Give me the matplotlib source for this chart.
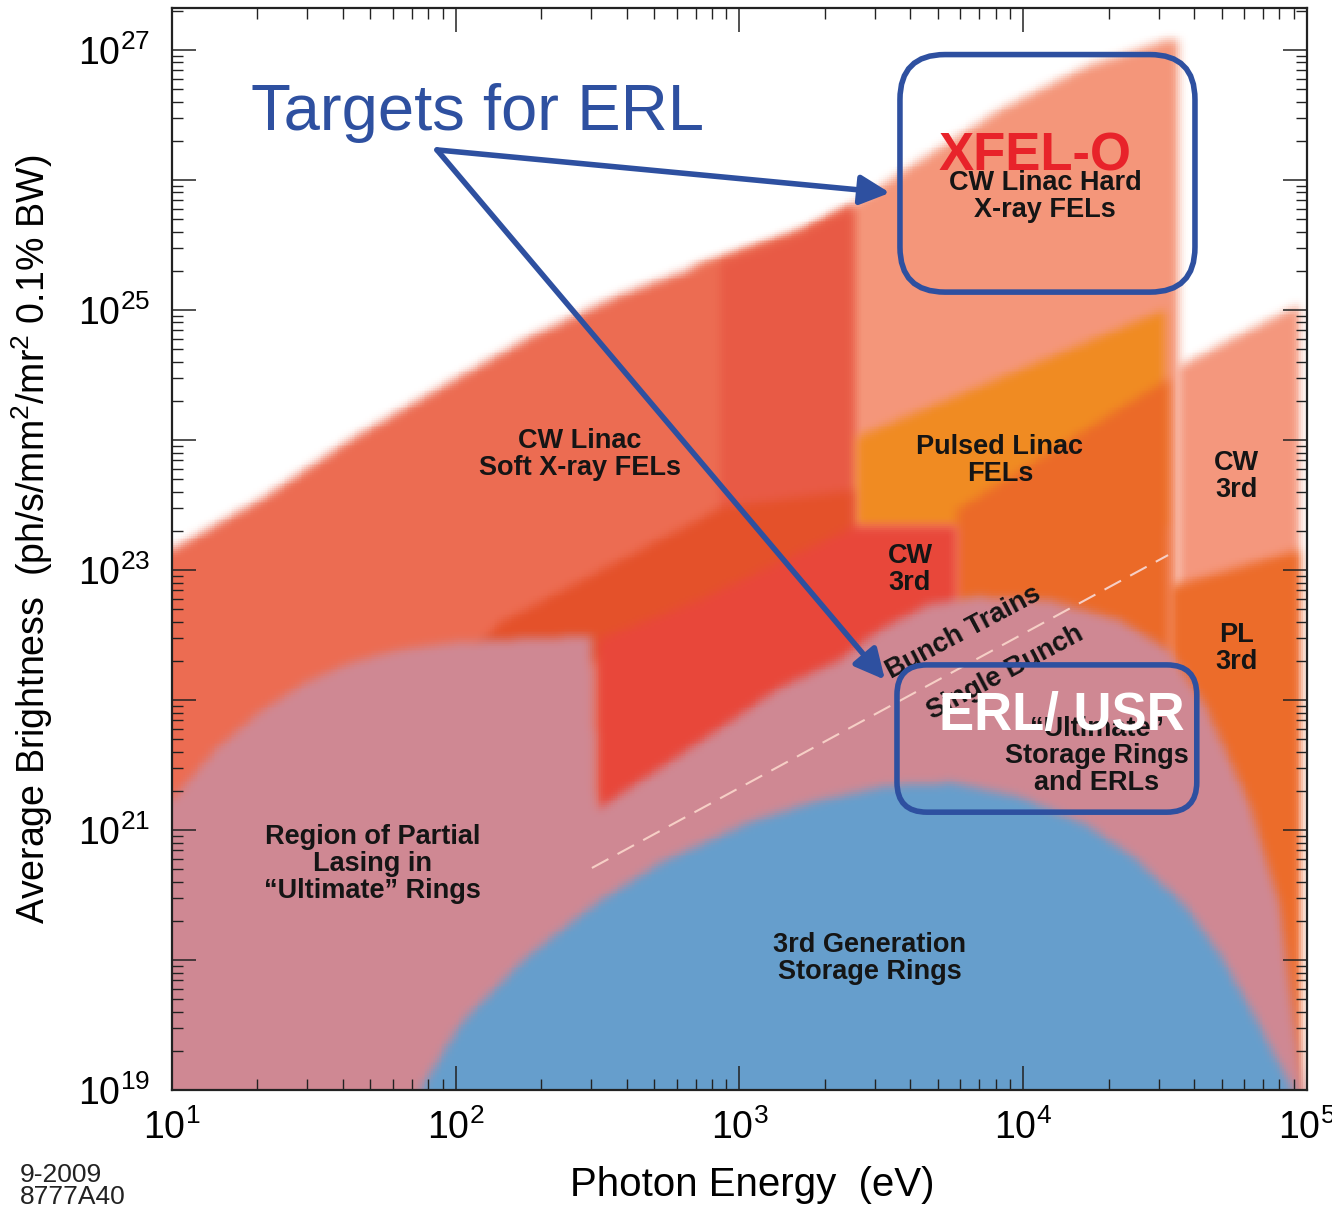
import numpy as np
import matplotlib
matplotlib.use('Agg')
import matplotlib.pyplot as plt
from matplotlib.path import Path
from matplotlib.colors import to_rgb
from matplotlib.patches import FancyBboxPatch
from matplotlib.ticker import LogLocator, FuncFormatter, NullFormatter
from matplotlib.transforms import IdentityTransform

plt.rcParams['font.family'] = ['Liberation Sans', 'DejaVu Sans']
plt.rcParams['mathtext.fontset'] = 'custom'
plt.rcParams['mathtext.rm'] = 'Liberation Sans'
plt.rcParams['mathtext.it'] = 'Liberation Sans:italic'
plt.rcParams['mathtext.bf'] = 'Liberation Sans:bold'

E_MIN, E_MAX = 1e1, 1e5
B_MIN, B_MAX = 1e19, 2.1e27

# region outlines: photon energy (eV), average brightness
hard_E = [700, 787, 1633, 2512, 3475, 8280, 16500, 32100, 35100, 35100, 700]
hard_B = [2.2e25, 2.34e25, 3.98e25, 6.4e25, 1.04e26, 3.45e26, 7.4e26, 1.19e27,
          1.19e27, 5e18, 5e18]

cw3r_E = [35100, 94400, 94400, 35100]
cw3r_B = [3.65e24, 1.1e25, 5e18, 5e18]

pl3r_E = [33000, 94400, 94400, 33000]
pl3r_B = [7.4e22, 1.43e23, 5e18, 5e18]

soft_E = [5, 10, 20.4, 42.4, 87.9, 183, 379, 787, 1633, 2512, 2512, 5]
soft_B = [1.43e23, 1.43e23, 3.45e23, 1e24, 2.51e24, 6.2e24, 1.3e25, 2.34e25,
          3.98e25, 6.4e25, 5e18, 5e18]

strip_E = [853, 1633, 2512, 2512, 853]
strip_B = [2.3e25, 3.8e25, 6.2e25, 5e18, 5e18]

pulsed_E = [2594, 31600, 31600, 2594]
pulsed_B = [1.05e24, 1.0e25, 2.14e23, 2.14e23]

pulsed_lo_E = [5850, 32800, 32800, 5850]
pulsed_lo_B = [2.9e23, 3.0e24, 5e18, 5e18]

band_E = [112, 143, 875, 2512, 2512, 315]
band_B = [2.2e22, 3.9e22, 3.05e23, 4.1e23, 1.19e23, 2.0e22]

cw3_E = [315, 726, 2512, 5850, 5850, 315]
cw3_B = [2.9e22, 5.9e22, 2.14e23, 2.14e23, 5e18, 5e18]

usr_E = [5, 10, 14.2, 20.4, 29.4, 42.4, 63.6, 95.4, 143, 297, 302, 315, 726,
         1389, 2259, 3126, 4613, 6815, 12220, 21900, 32400, 43700, 62900,
         80300, 89300, 96900, 96900, 5]
usr_B = [1.7e21, 1.7e21, 4.12e21, 8.1e21, 1.35e22, 1.93e22, 2.43e22, 2.74e22,
         2.9e22, 3.1e22, 3.1e22, 1.43e21, 4.75e21, 1.24e22, 2.03e22, 3.45e22,
         5.4e22, 6.2e22, 5.9e22, 4.12e22, 2.43e22, 9.2e21, 1.56e21, 2.65e20,
         4.12e19, 1e19, 5e18, 5e18]

sr3_E = [73, 75, 103.5, 178, 307, 529, 1088, 1875, 3311, 5650, 9740, 16780,
         25180, 37760, 49360, 64560, 80300, 89300, 91000]
sr3_B = [8e18, 1e19, 3.16e19, 1.05e20, 2.65e20, 5.6e20, 1.15e21, 1.67e21,
         2.18e21, 2.3e21, 1.79e21, 1.09e21, 5.9e20, 2.51e20, 1.11e20, 3.9e19,
         1.56e19, 1e19, 8e18]

dash_E = [302, 32400]
dash_B = [5.1e20, 1.3e23]

layers = [
    (hard_E, hard_B, '#F4967A'),
    (cw3r_E, cw3r_B, '#F4977D'),
    (pl3r_E, pl3r_B, '#EC6C2A'),
    (soft_E, soft_B, '#EC6C52'),
    (strip_E, strip_B, '#E85A45'),
    (pulsed_E, pulsed_B, '#F08B22'),
    (pulsed_lo_E, pulsed_lo_B, '#EB6A28'),
    (band_E, band_B, '#E4512A'),
    (cw3_E, cw3_B, '#E8473A'),
    (usr_E, usr_B, '#CF8893'),
    (sr3_E, sr3_B, '#669ECC'),
]


def box_blur(a, r, axis):
    pad = [(0, 0), (0, 0)]
    pad[axis] = (r + 1, r)
    c = np.cumsum(np.pad(a, pad, mode='edge'), axis=axis)
    n = a.shape[axis]
    hi = np.take(c, np.arange(2 * r + 1, 2 * r + 1 + n), axis=axis)
    lo = np.take(c, np.arange(n), axis=axis)
    return (hi - lo) / (2 * r + 1)


def soften(m, r=2, passes=3):
    for _ in range(passes):
        m = box_blur(m, r, 0)
        m = box_blur(m, r, 1)
    return m


# rasterise the soft-edged regions on a log-spaced mesh
nx, ny = 600, 570
lx = np.linspace(np.log10(E_MIN), np.log10(E_MAX), nx + 1)
ly = np.linspace(np.log10(B_MIN), np.log10(B_MAX), ny + 1)
xc = (lx[:-1] + lx[1:]) / 2
yc = (ly[:-1] + ly[1:]) / 2
XX, YY = np.meshgrid(xc, yc)
pts = np.column_stack([XX.ravel(), YY.ravel()])

canvas = np.ones((ny, nx, 3))
for E, B, col in layers:
    poly = Path(np.column_stack([np.log10(E), np.log10(B)]))
    m = poly.contains_points(pts).reshape(ny, nx).astype(float)
    m = soften(m)[..., None]
    canvas = canvas * (1 - m) + np.array(to_rgb(col)) * m

fig = plt.figure(figsize=(13.32, 12.06), dpi=100)
ax = fig.add_axes([0.1291, 0.0962, 0.8521, 0.8972])
ax.set_xscale('log')
ax.set_yscale('log')
ax.pcolormesh(10 ** lx, 10 ** ly, canvas, shading='flat', zorder=0)
ax.set_xlim(E_MIN, E_MAX)
ax.set_ylim(B_MIN, B_MAX)

ax.plot(dash_E, dash_B, color='#F6CFC6', lw=1.5, dashes=(9, 5), zorder=2)

# ticks
ax.xaxis.set_major_locator(LogLocator(base=10, numticks=10))
ax.yaxis.set_major_locator(LogLocator(base=10, numticks=20))
ax.xaxis.set_minor_locator(LogLocator(base=10, subs=np.arange(2, 10), numticks=20))
ax.yaxis.set_minor_locator(LogLocator(base=10, subs=np.arange(2, 10), numticks=20))
ax.xaxis.set_minor_formatter(NullFormatter())
ax.yaxis.set_minor_formatter(NullFormatter())
ax.xaxis.set_major_formatter(FuncFormatter(
    lambda v, p: f'$10^{{{int(round(np.log10(v)))}}}$'))
ax.yaxis.set_major_formatter(FuncFormatter(
    lambda v, p: f'$10^{{{int(round(np.log10(v)))}}}$'
    if int(round(np.log10(v))) % 2 == 1 else ''))
ax.tick_params(which='both', direction='in', top=True, right=True, color='#222222')
ax.tick_params(which='major', length=17, width=1.1, labelsize=27)
ax.tick_params(which='minor', length=8, width=1.0)
ax.tick_params(axis='x', which='major', pad=14)
ax.tick_params(axis='y', which='major', pad=16)
for s in ax.spines.values():
    s.set_linewidth(1.6)
    s.set_color('#222222')

ax.set_xlabel('Photon Energy  (eV)', fontsize=29)
ax.set_ylabel('Average Brightness  (ph/s/mm$^2$/mr$^2$ 0.1% BW)', fontsize=27)
ax.xaxis.set_label_coords(0.511, -0.070)
ax.yaxis.set_label_coords(-0.103, 0.509)

# region labels
lab = dict(fontsize=19.5, fontweight='bold', color='#151515', ha='center',
           va='center', ma='center', linespacing=1.05, zorder=3)
ax.text(274, 7.7e23, 'CW Linac\nSoft X-ray FELs', **lab)
ax.text(8280, 7.0e23, 'Pulsed Linac\nFELs', **lab)
ax.text(3990, 1.0e23, 'CW\n3rd', **lab)
ax.text(56600, 5.2e23, 'CW\n3rd', **lab)
ax.text(56600, 2.47e22, 'PL\n3rd', **lab)
ax.text(11940, 7.4e25, 'CW Linac Hard\nX-ray FELs', **lab)
ax.text(51, 5.5e20, 'Region of Partial\nLasing in\n\u201cUltimate\u201d Rings', **lab)
ax.text(2884, 1.02e20, '3rd Generation\nStorage Rings', **lab)
ax.text(18200, 3.7e21, '\u201cUltimate\u201d\nStorage Rings\nand ERLs', **lab)
ax.text(6140, 3.27e22, 'Bunch Trains', rotation=28, rotation_mode='anchor',
        **{k: v for k, v in lab.items() if k != 'ma'})
ax.text(8625, 1.61e22, 'Single Bunch', rotation=28, rotation_mode='anchor',
        **{k: v for k, v in lab.items() if k != 'ma'})

# overlay annotations
blue = '#2E50A0'
ax.text(119, 2.43e26, 'Targets for ERL', fontsize=47, color=blue,
        ha='center', va='baseline', zorder=5)
arrow = dict(arrowstyle='-|>,head_length=0.6,head_width=0.3', lw=4,
             color=blue, mutation_scale=30, shrinkA=0, shrinkB=0)
ax.annotate('', xy=(3390, 7.95e25), xytext=(85.9, 1.7e26), arrowprops=arrow, zorder=5)
ax.annotate('', xy=(3256, 1.43e22), xytext=(85.9, 1.7e26), arrowprops=arrow, zorder=5)


def rounded_box(E0, E1, B0, B1, rad):
    (x0, y0), (x1, y1) = ax.transData.transform([(E0, B0), (E1, B1)])
    p = FancyBboxPatch((x0, y0), x1 - x0, y1 - y0,
                       boxstyle=f'round,pad=0,rounding_size={rad}',
                       transform=IdentityTransform(), fill=False,
                       edgecolor=blue, lw=4, zorder=5)
    ax.add_patch(p)


rounded_box(3678, 40300, 1.37e25, 9.2e26, 45)
rounded_box(3590, 40900, 1.37e21, 1.86e22, 30)

ax.text(11000, 1.19e26, 'XFEL-O', fontsize=38, fontweight='bold',
        color='#E8232A', ha='center', va='baseline', zorder=6)
ax.text(13700, 5.9e21, 'ERL/ USR', fontsize=38, fontweight='bold',
        color='white', ha='center', va='baseline', zorder=6)

fig.text(20 / 1332, 1 - 1163 / 1206, '9-2009\n8777A40', fontsize=19,
         va='top', ha='left', linespacing=0.9, color='#222222')

fig.savefig('out.png', dpi=100)
